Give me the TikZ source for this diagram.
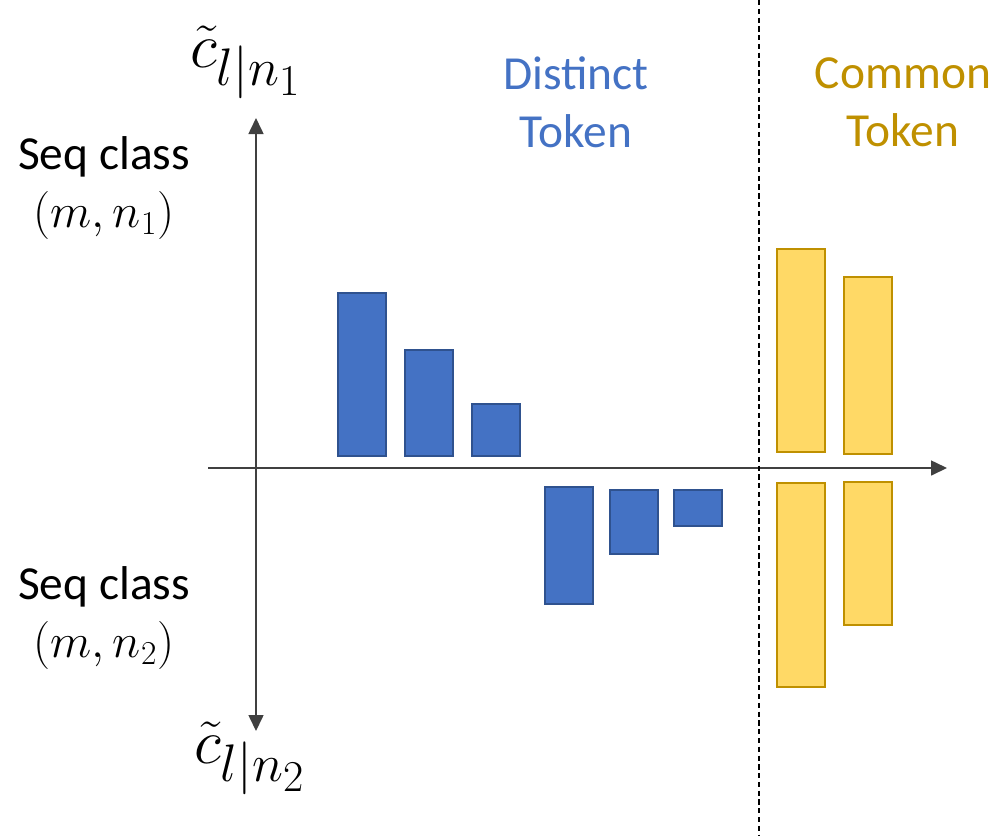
\documentclass[tikz,border=0pt]{standalone}
\usepackage{amsmath,amssymb}
\usepackage{fontspec}
\setmainfont{Carlito}
\usetikzlibrary{arrows.meta}

\definecolor{tokblue}{HTML}{4472C4}
\definecolor{tokblueedge}{HTML}{2F528F}
\definecolor{tokgold}{HTML}{FFD966}
\definecolor{tokgoldedge}{HTML}{BF9000}
\definecolor{axisgray}{HTML}{404040}
\newcommand{\bigmath}[2]{\scalebox{#1}{$#2$}}

\begin{document}
\begin{tikzpicture}[x=0.02cm,y=-0.02cm,
	axis/.style={draw=axisgray,line width=0.9pt,-{Triangle[length=0.32cm,width=0.3cm]}},
	distinctbar/.style={fill=tokblue,draw=tokblueedge,line width=1.1pt},
	commonbar/.style={fill=tokgold,draw=tokgoldedge,line width=1.1pt},
	label/.style={font=\fontsize{27}{33}\selectfont,align=center,inner sep=0pt},
	score/.style={font=\fontsize{24.88}{30}\selectfont,inner sep=0pt}]
 	\useasboundingbox (0,0) rectangle (996,836);
	% axes
	\coordinate (origin) at (256,468);
	\coordinate (xleft) at (208,468);
	\coordinate (xright) at (947,468);
	\coordinate (ytop) at (256,118);
	\coordinate (ybottom) at (256,731);
	\draw[axis] (origin) -- (ytop);
	\draw[axis] (origin) -- (ybottom);
	\draw[axis] (xleft) -- (xright);
	% separator
	\coordinate (septop) at (759,0);
	\coordinate (sepbottom) at (759,836);
	\draw[dashed,line width=0.6pt,dash pattern=on 3pt off 2pt] (septop) -- (sepbottom);
	% bars
	\foreach \xa/\ya/\xb/\yb in {338/293/386/456, 405/350/453/456, 472/404/520/456,
			545/487/593/604, 610/490/658/554, 674/490/722/526}
		\draw[distinctbar] (\xa,\ya) rectangle (\xb,\yb);
	\foreach \xa/\ya/\xb/\yb in {777/249/825/452, 844/277/892/454,
			777/483/825/687, 844/482/892/625}
		\draw[commonbar] (\xa,\ya) rectangle (\xb,\yb);
	% labels
	\node[label,text=tokblue] (distinct) at (576,102) {Distinct\\Token};
	\node[label,text=tokgoldedge] (common) at (903,102) {Common\\Token};
	\node[label] (classone) at (104,188) {Seq class\\\bigmath{1.1}{(m,n_1)}};
	\node[label] (classtwo) at (104,618) {Seq class\\\bigmath{1.1}{(m,n_2)}};
	\node[score] (scoreone) at (246,62) {\bigmath{1.45}{\tilde{c}_{l|n_1}}};
	\node[score] (scoretwo) at (250,758) {\bigmath{1.45}{\tilde{c}_{l|n_2}}};
\end{tikzpicture}
\end{document}
